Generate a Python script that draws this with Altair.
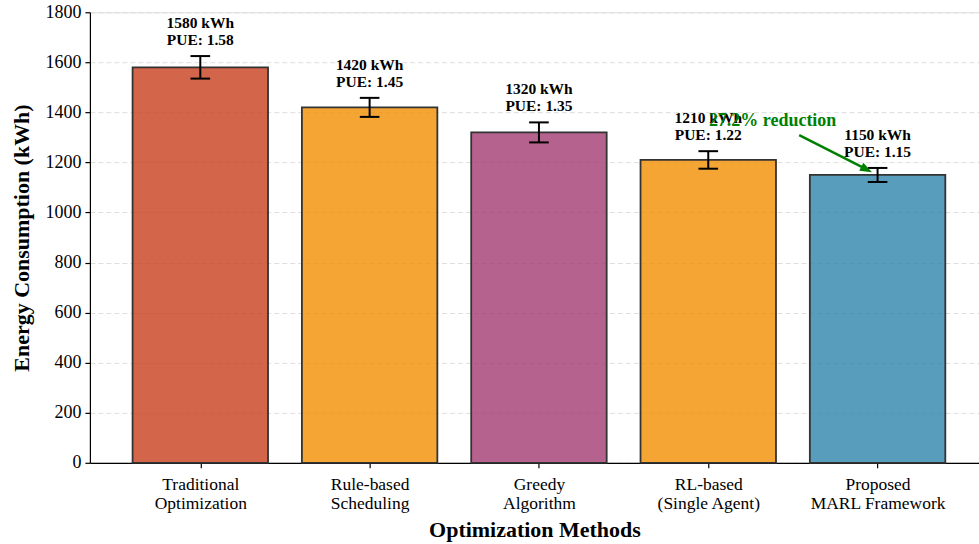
import altair as alt
import pandas as pd

# Energy use per scheduling method (kWh), with spread and PUE
methods = [
    ["Traditional", "Optimization"],
    ["Rule-based", "Scheduling"],
    ["Greedy", "Algorithm"],
    ["RL-based", "(Single Agent)"],
    ["Proposed", "MARL Framework"],
]
energy = [1580, 1420, 1320, 1210, 1150]
errors = [45, 38, 40, 35, 28]
pue = [1.58, 1.45, 1.35, 1.22, 1.15]
colors = ["#C73E1D", "#F18F01", "#A23B72", "#F18F01", "#2E86AB"]

FONT = "Liberation Serif"

df = pd.DataFrame({
    "idx": list(range(len(energy))),
    "energy": energy,
    "err": errors,
    "pue": pue,
    "color": colors,
})
df["x0"] = df["idx"] - 0.4
df["x1"] = df["idx"] + 0.4
df["lo"] = df["energy"] - df["err"]
df["hi"] = df["energy"] + df["err"]
df["cap0"] = df["idx"] - 0.058
df["cap1"] = df["idx"] + 0.058
df["label"] = [f"{e} kWh\nPUE: {p:.2f}" for e, p in zip(energy, pue)]

reduction = (energy[0] - energy[-1]) / energy[0] * 100
ann = pd.DataFrame({
    "tx": [3.38], "ty": [1345],
    "ax0": [3.537], "ay0": [1309],
    "ax1": [3.915], "ay1": [1179],
    "hx": [3.967], "hy": [1161],
    "text": [f"{reduction:.1f}% reduction"],
})

label_js = "[" + ",".join("['" + a + "','" + b + "']" for a, b in methods) + "]"

xscale = alt.Scale(domain=[-0.652, 4.599], nice=False, zero=False)
yscale = alt.Scale(domain=[0, 1800], nice=False)

x_axis = alt.Axis(
    values=list(range(len(methods))),
    labelExpr=label_js + "[datum.value]",
    title="Optimization Methods",
    grid=False,
    tickSize=5, tickColor="black", tickWidth=1.2,
    domainColor="black", domainWidth=1.2,
    labelFont=FONT, labelFontSize=17.5, labelColor="black", labelLineHeight=19,
    labelPadding=8,
    titleFont=FONT, titleFontSize=22, titleFontWeight="bold", titleColor="black",
    titlePadding=7,
)
y_axis = alt.Axis(
    values=list(range(0, 1801, 200)),
    format="d",
    title="Energy Consumption (kWh)",
    grid=True, gridColor="#dedede", gridDash=[5, 3], gridWidth=1,
    tickSize=5, tickColor="black", tickWidth=1.2,
    domainColor="black", domainWidth=1.2,
    labelFont=FONT, labelFontSize=18, labelColor="black", labelPadding=4,
    titleFont=FONT, titleFontSize=22, titleFontWeight="bold", titleColor="black",
    titlePadding=11,
)

base = alt.Chart(df)

bars = base.mark_rect(fillOpacity=0.8, stroke="#333333", strokeWidth=1.8).encode(
    x=alt.X("x0:Q", scale=xscale, axis=x_axis),
    x2="x1:Q",
    y=alt.Y("energy:Q", scale=yscale, axis=y_axis),
    y2=alt.datum(0),
    fill=alt.Fill("color:N", scale=None),
)

err_line = base.mark_rule(color="black", strokeWidth=2).encode(
    x="idx:Q", y="lo:Q", y2="hi:Q"
)
cap_top = base.mark_rule(color="black", strokeWidth=2).encode(
    x="cap0:Q", x2="cap1:Q", y="hi:Q"
)
cap_bot = base.mark_rule(color="black", strokeWidth=2).encode(
    x="cap0:Q", x2="cap1:Q", y="lo:Q"
)

# two-line value labels sit above each error bar
labels = base.mark_text(
    font=FONT, fontSize=15.5, fontWeight="bold", color="black",
    baseline="bottom", align="center", dy=-25, lineBreak="\n", lineHeight=17,
).encode(x="idx:Q", y="hi:Q", text="label:N")

ann_base = alt.Chart(ann)
arrow_line = ann_base.mark_rule(color="green", strokeWidth=2.5).encode(
    x="ax0:Q", y="ay0:Q", x2="ax1:Q", y2="ay1:Q"
)
arrow_head = ann_base.mark_point(
    shape="M 0 0 L -2 -0.75 L -2 0.75 Z", filled=True, color="green",
    opacity=1, size=144, angle=27,
).encode(x="hx:Q", y="hy:Q")
ann_text = ann_base.mark_text(
    font=FONT, fontSize=18, fontWeight="bold", color="green",
    align="center", baseline="alphabetic",
).encode(x="tx:Q", y="ty:Q", text="text:N")

chart = alt.layer(
    bars, err_line, cap_top, cap_bot, labels, arrow_line, arrow_head, ann_text
).properties(
    width=890, height=451,
    autosize=alt.AutoSizeParams(type="none"),
    padding={"left": 90, "top": 12, "right": 0, "bottom": 81},
).configure_view(
    stroke="black", strokeWidth=1.2
).configure(background="white")

chart.save("out.html", embed_options={"renderer": "svg", "actions": False})
